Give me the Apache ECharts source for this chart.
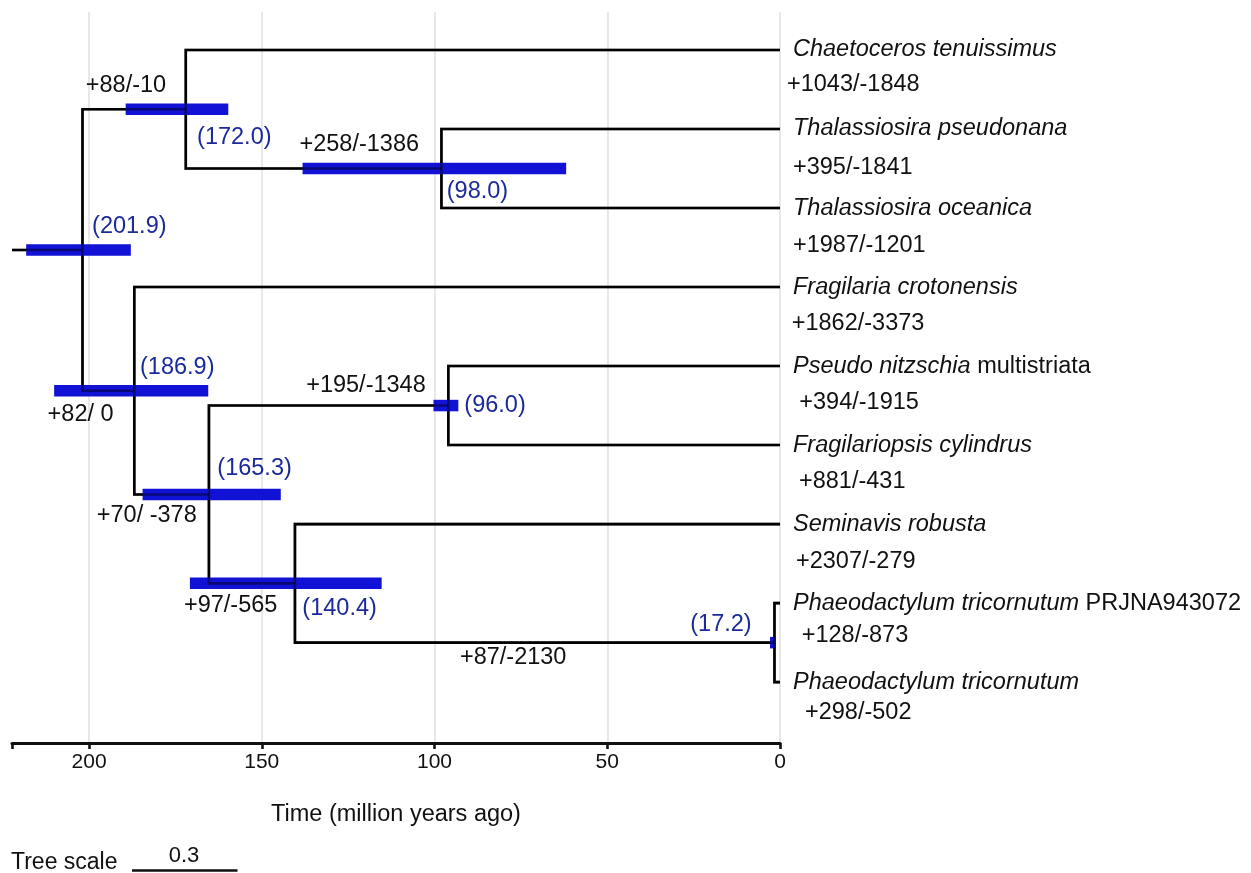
<!DOCTYPE html>
<html><head><meta charset="utf-8">
<script src="https://cdn.jsdelivr.net/npm/echarts@6/dist/echarts.min.js"></script>
<style>html,body{margin:0;padding:0;background:#fff;}#c{width:1251px;height:873px;}</style>
</head><body><div id="c"></div>
<script>
// ---------- data ----------
const leafItalic = ['Chaetoceros tenuissimus','Thalassiosira pseudonana','Thalassiosira oceanica','Fragilaria crotonensis','Pseudo nitzschia','Fragilariopsis cylindrus','Seminavis robusta','Phaeodactylum tricornutum','Phaeodactylum tricornutum'];
const leafSuffix = ['','','','',' multistriata','','',' PRJNA943072',''];
const leafGainLoss = ['+1043/-1848','+395/-1841','+1987/-1201','+1862/-3373','+394/-1915','+881/-431','+2307/-279','+128/-873','+298/-502'];
const leafAges = [0,0,0,0,0,0,0,0,0];

const nodeNames = ['root','n1','n2','n3','n4','n5','n6','n7'];
const nodeChildren = [['n1','n3'],['L0','n2'],['L1','L2'],['L3','n4'],['n5','n6'],['L4','L5'],['L6','n7'],['L7','L8']];
const nodeAges = [201.9,172.0,98.0,186.9,165.3,96.0,140.4,1.6];
const nodeAgeLabels = ['(201.9)','(172.0)','(98.0)','(186.9)','(165.3)','(96.0)','(140.4)','(17.2)'];
const hpdOld = [218.2,189.4,138.2,210.1,184.5,100.3,170.8,2.9];
const hpdYoung = [187.9,159.7,61.9,165.5,144.5,93.1,115.3,1.2];
const branchGainLoss = ['','+88/-10','+258/-1386','+82/ 0','+70/ -378','+195/-1348','+97/-565','+87/-2130'];
const rootStemAge = 222.3;
const tickValues = [0,50,100,150,200];
const axisTitle = 'Time (million years ago)';
const treeScaleText = 'Tree scale';
const treeScaleValue = '0.3';

// ---------- layout (label placement offsets, px) ----------
const ageLabelLayout = [[9.6,-23,'left'],[11.3,28.7,'left'],[5.3,23.2,'left'],[5.7,-22.8,'left'],[8.4,-26.3,'left'],[16,-0.5,'left'],[7.4,24.7,'left'],[-22.8,-18.5,'right']];
const branchLabelLayout = [null,['parent',3.3,-23.5,'left'],['child',-22.4,-24.2,'right'],['parent',-1.9,23.6,'center'],['child',-12.2,21,'right'],['child',-22.6,-20.5,'right'],['child',-17.6,22,'right'],['parent',165,15.2,'left']];
const leafNameDx = 13;
const leafGLdx = [7,13,13,11.7,19.3,19,16,21.7,25];
const leafGLdy = [35,38.7,38,36.3,36.7,36,37,32,30.3];

const FONT = '"Liberation Sans", Arial, Helvetica, sans-serif';
const FS = 23.5;
const BLACK = '#111';
const NAVY = '#1b2a9a';
const BAR = '#1212d6';
const LW = 2.6;

// ---------- tree geometry in data units ----------
const pos = {};
leafItalic.forEach((_, i) => { pos['L' + i] = [leafAges[i], i]; });
function nodePos(name) {
  if (pos[name]) return pos[name];
  const k = nodeNames.indexOf(name);
  const ys = nodeChildren[k].map(c => nodePos(c)[1]);
  pos[name] = [nodeAges[k], (ys[0] + ys[1]) / 2];
  return pos[name];
}
nodeNames.forEach(nodePos);
const parentOf = {};
nodeNames.forEach((n, k) => nodeChildren[k].forEach(c => { parentOf[c] = n; }));

const polylines = nodeNames.map((n, k) => {
  const [c1, c2] = nodeChildren[k].map(nodePos);
  const a = nodeAges[k];
  return [[c1[0], c1[1]], [a, c1[1]], [a, c2[1]], [c2[0], c2[1]]];
});
polylines.push([[rootStemAge, pos.root[1]], [nodeAges[0], pos.root[1]]]);

const texts = [];
nodeNames.forEach((n, k) => {
  const L = ageLabelLayout[k];
  texts.push({anchor: pos[n], dx: L[0], dy: L[1], align: L[2], text: nodeAgeLabels[k], color: NAVY});
  const B = branchLabelLayout[k];
  if (B && branchGainLoss[k]) {
    const p = pos[n];
    const anchorX = B[0] === 'parent' ? pos[parentOf[n]][0] : p[0];
    texts.push({anchor: [anchorX, p[1]], dx: B[1], dy: B[2], align: B[3], text: branchGainLoss[k], color: BLACK});
  }
});
leafItalic.forEach((nm, i) => {
  texts.push({anchor: pos['L' + i], dx: leafNameDx, dy: 0, align: 'left', italic: nm, suffix: leafSuffix[i], color: BLACK});
  texts.push({anchor: pos['L' + i], dx: leafGLdx[i], dy: leafGLdy[i], align: 'left', text: leafGainLoss[i], color: BLACK});
});

function lineSeries(stroke, z) {
  return {
    type: 'custom', clip: false, z: z, silent: true,
    data: polylines.map(pl => pl[0]),
    renderItem: (params, api) => {
      const pts = polylines[params.dataIndex].map(p => api.coord(p));
      return {type: 'polyline', shape: {points: pts}, style: {stroke: stroke, lineWidth: LW, fill: 'none', lineJoin: 'miter', lineCap: 'butt'}};
    }
  };
}

const option = {
  animation: false,
  backgroundColor: '#fff',
  grid: {left: 12, right: 471, top: 12, bottom: 130, containLabel: false, outerBoundsMode: 'none'},
  xAxis: {
    type: 'value', inverse: true, min: 0, max: rootStemAge, interval: 50, position: 'bottom',
    axisLine: {show: true, onZero: false, lineStyle: {color: BLACK, width: 3}},
    axisTick: {show: true, inside: false, length: 6, lineStyle: {color: BLACK, width: 2.6}},
    axisLabel: {fontSize: 21, color: BLACK, fontFamily: FONT, margin: 9,
      formatter: v => tickValues.indexOf(v) >= 0 ? String(v) : ''},
    splitLine: {show: true, showMaxLine: false, lineStyle: {color: '#e2e2e2', width: 1.6}},
    name: axisTitle, nameLocation: 'middle', nameGap: 60,
    nameTextStyle: {fontSize: FS, color: BLACK, fontFamily: FONT}
  },
  yAxis: {type: 'value', inverse: true, min: -0.48, max: 8.77, show: false},
  series: [
    lineSeries('#000', 1),
    {
      type: 'custom', clip: false, z: 2, silent: true,
      data: nodeNames.map((n, k) => [hpdOld[k], hpdYoung[k], pos[n][1]]),
      encode: {x: [0, 1], y: 2},
      renderItem: (params, api) => {
        const p1 = api.coord([api.value(0), api.value(2)]);
        const p2 = api.coord([api.value(1), api.value(2)]);
        const h = 11.5;
        return {type: 'rect', shape: {x: Math.min(p1[0], p2[0]), y: p1[1] - h / 2, width: Math.abs(p2[0] - p1[0]), height: h}, style: {fill: BAR}};
      }
    },
    lineSeries('rgba(0,0,0,0.45)', 3),
    {
      type: 'custom', clip: false, z: 4, silent: true,
      data: texts.map(t => t.anchor),
      renderItem: (params, api) => {
        const t = texts[params.dataIndex];
        const p = api.coord(t.anchor);
        const style = {fill: t.color, fontSize: FS, fontFamily: FONT, align: t.align, verticalAlign: 'middle'};
        if (t.italic !== undefined) {
          style.text = '{i|' + t.italic + '}' + (t.suffix ? '{n|' + t.suffix + '}' : '');
          style.rich = {
            i: {fontStyle: 'italic', fontSize: FS, fontFamily: FONT, fill: t.color},
            n: {fontStyle: 'normal', fontSize: FS, fontFamily: FONT, fill: t.color}
          };
        } else {
          style.text = t.text;
        }
        return {type: 'text', x: p[0] + t.dx, y: p[1] + t.dy, style: style};
      }
    }
  ],
  graphic: [
    {type: 'text', x: 11, y: 862.5, style: {text: treeScaleText, fontSize: 23, fontFamily: FONT, fill: BLACK, align: 'left', verticalAlign: 'middle'}},
    {type: 'line', shape: {x1: 132, y1: 870.5, x2: 237.5, y2: 870.5}, style: {stroke: BLACK, lineWidth: 2.3}},
    {type: 'text', x: 184, y: 856, style: {text: treeScaleValue, fontSize: 22, fontFamily: FONT, fill: BLACK, align: 'center', verticalAlign: 'middle'}}
  ]
};
const chart = echarts.init(document.getElementById('c'), null, {renderer: 'canvas'});
chart.setOption(option);
</script>
</body></html>
